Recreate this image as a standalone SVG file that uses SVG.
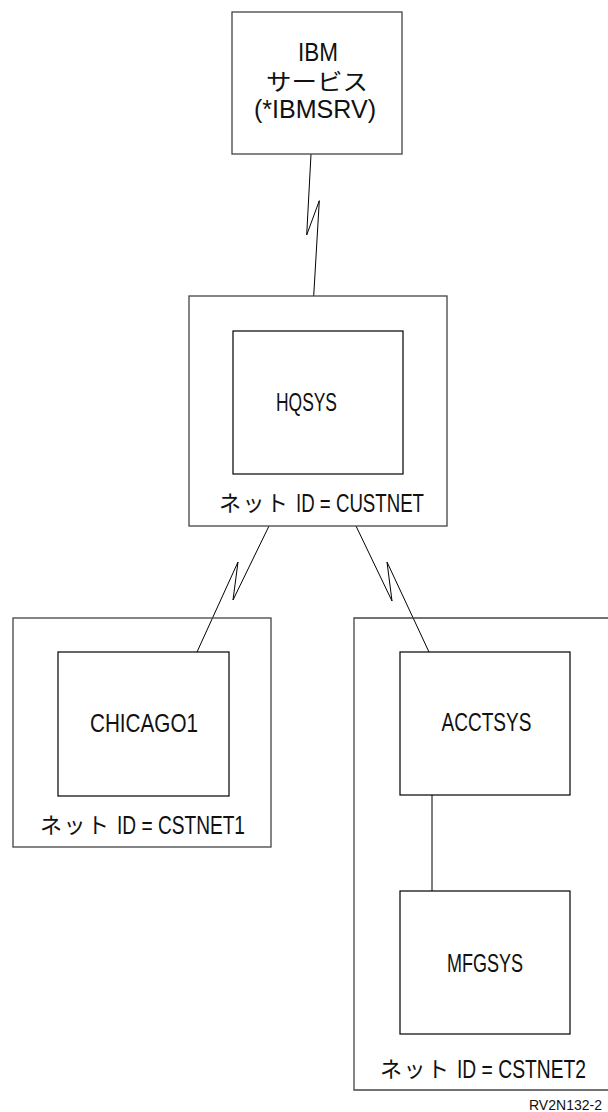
<svg xmlns="http://www.w3.org/2000/svg" width="608" height="1112" viewBox="0 0 608 1112">
<style>
.outer{fill:none;stroke:#444;stroke-width:1.3}
.inner{fill:none;stroke:#000;stroke-width:1.2}
.conn{fill:none;stroke:#000;stroke-width:1}
text{font-family:"Liberation Sans","Noto Sans CJK JP",sans-serif;font-size:25px;fill:#111}
.jp{font-family:"Noto Sans CJK JP",sans-serif;font-size:22px;letter-spacing:1.5px}
.small{font-size:14px}
</style>
<rect width="608" height="1112" fill="#fff"/>
<g id="connectors">
<path class="conn" d="M311,154 L306.7,235 L319.3,200.7 L313.7,296"/>
<path class="conn" d="M269,526 L233,600 L238,562 L197,652"/>
<path class="conn" d="M356,526 L392,601 L387,562 L429,652"/>
<path class="conn" d="M432,795 L432,891"/>
</g>
<g id="ibm">
<rect class="outer" x="232" y="12" width="170" height="142"/>
<text x="298" y="61" textLength="40" lengthAdjust="spacingAndGlyphs">IBM</text>
<text x="266" y="90" textLength="102" lengthAdjust="spacingAndGlyphs" style="font-family:'Noto Sans CJK JP',sans-serif;font-size:23px">サービス</text>
<text x="254" y="118" textLength="122" lengthAdjust="spacingAndGlyphs">(*IBMSRV)</text>
</g>
<g id="custnet">
<rect class="outer" x="189" y="296" width="258" height="230"/>
<text class="jp" x="219" y="511">ネット</text>
<text x="296" y="512" textLength="128" lengthAdjust="spacingAndGlyphs">ID = CUSTNET</text>
</g>
<g id="hqsys">
<rect class="inner" x="233" y="331" width="170" height="143"/>
<text x="276" y="411" textLength="61" lengthAdjust="spacingAndGlyphs">HQSYS</text>
</g>
<g id="cstnet1">
<rect class="outer" x="13" y="618" width="258" height="229"/>
<text class="jp" x="40" y="833">ネット</text>
<text x="117" y="834" textLength="128" lengthAdjust="spacingAndGlyphs">ID = CSTNET1</text>
</g>
<g id="chicago01">
<rect class="inner" x="58" y="652" width="171" height="144"/>
<text x="90" y="732" textLength="108" lengthAdjust="spacingAndGlyphs">CHICAGO1</text>
</g>
<g id="cstnet2">
<path class="outer" d="M620,618 L354,618 L354,1090 L620,1090"/>
<text class="jp" x="380" y="1077">ネット</text>
<text x="457" y="1078" textLength="129" lengthAdjust="spacingAndGlyphs">ID = CSTNET2</text>
</g>
<g id="acctsys">
<rect class="inner" x="400" y="652" width="170" height="143"/>
<text x="441.5" y="731" textLength="90" lengthAdjust="spacingAndGlyphs">ACCTSYS</text>
</g>
<g id="mfgsys">
<rect class="inner" x="400" y="891" width="170" height="143"/>
<text x="447" y="972" textLength="76" lengthAdjust="spacingAndGlyphs">MFGSYS</text>
</g>
<text class="small" x="529" y="1110" textLength="73" lengthAdjust="spacingAndGlyphs">RV2N132-2</text>
</svg>
